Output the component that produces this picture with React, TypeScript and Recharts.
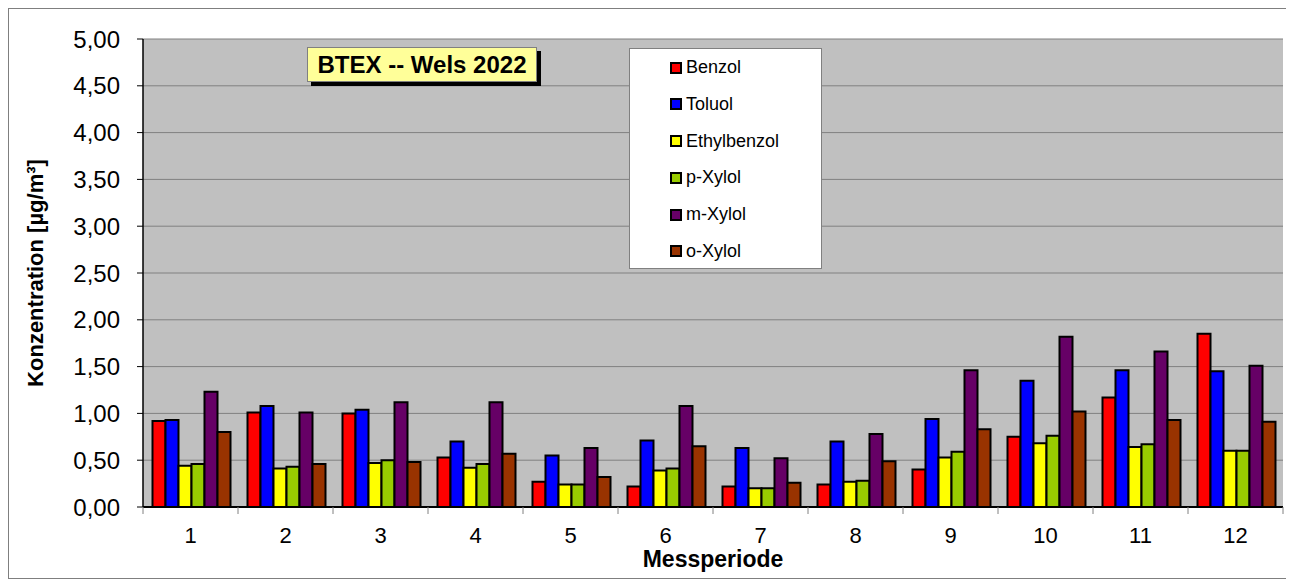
import { Bar, BarChart, CartesianGrid, Legend, XAxis, YAxis } from "recharts";

const PERIODS = ["1", "2", "3", "4", "5", "6", "7", "8", "9", "10", "11", "12"];
const BENZOL = [0.92, 1.01, 1.0, 0.53, 0.27, 0.22, 0.22, 0.24, 0.4, 0.75, 1.17, 1.85];
const TOLUOL = [0.93, 1.08, 1.04, 0.7, 0.55, 0.71, 0.63, 0.7, 0.94, 1.35, 1.46, 1.45];
const ETHYLBENZOL = [0.44, 0.41, 0.47, 0.42, 0.24, 0.39, 0.2, 0.27, 0.53, 0.68, 0.64, 0.6];
const P_XYLOL = [0.46, 0.43, 0.5, 0.46, 0.24, 0.41, 0.2, 0.28, 0.59, 0.76, 0.67, 0.6];
const M_XYLOL = [1.23, 1.01, 1.12, 1.12, 0.63, 1.08, 0.52, 0.78, 1.46, 1.82, 1.66, 1.51];
const O_XYLOL = [0.8, 0.46, 0.48, 0.57, 0.32, 0.65, 0.26, 0.49, 0.83, 1.02, 0.93, 0.91];
const Y_TICKS = [0, 0.5, 1, 1.5, 2, 2.5, 3, 3.5, 4, 4.5, 5];

const SERIES = [
  { key: "Benzol", values: BENZOL, color: "#FF0000" },
  { key: "Toluol", values: TOLUOL, color: "#0000FF" },
  { key: "Ethylbenzol", values: ETHYLBENZOL, color: "#FFFF00" },
  { key: "p-Xylol", values: P_XYLOL, color: "#99CC00" },
  { key: "m-Xylol", values: M_XYLOL, color: "#660066" },
  { key: "o-Xylol", values: O_XYLOL, color: "#993300" },
];
const ORDER = SERIES.map((s) => s.key);

const data = PERIODS.map((p, i) => {
  const row: Record<string, string | number> = { period: p };
  SERIES.forEach((s) => (row[s.key] = s.values[i]));
  return row;
});

const W = 1281;
const H = 569;
const MARGIN = { top: 30, right: 7, bottom: 0, left: 0 };
const Y_AXIS_W = 134;
const BAND = (W - MARGIN.right - Y_AXIS_W) / PERIODS.length;
const FONT = '"Liberation Sans", Arial, sans-serif';

const fmt = (v: number) => v.toFixed(2).replace(".", ",");

function PeriodTick(props: any) {
  const { x, y, payload, index } = props;
  const half = BAND / 2;
  return (
    <g>
      <line x1={x - half} x2={x - half} y1={y} y2={y + 7} stroke="#808080" />
      {index === PERIODS.length - 1 && <line x1={x + half} x2={x + half} y1={y} y2={y + 7} stroke="#808080" />}
      <text x={x} y={y + 20} dy="0.71em" textAnchor="middle" fontSize={22} fill="#000">
        {payload.value}
      </text>
    </g>
  );
}

function LegendBox({ payload }: any) {
  const items = [...(payload || [])].sort((a: any, b: any) => ORDER.indexOf(a.value) - ORDER.indexOf(b.value));
  return (
    <div style={{ width: 193, height: 221, background: "#fff", border: "1px solid #808080", boxSizing: "border-box", position: "relative" }}>
      {items.map((p: any, i: number) => (
        <div key={p.value} style={{ position: "absolute", left: 40, top: 18.7 + i * 36.7 - 11, height: 22, display: "flex", alignItems: "center" }}>
          <span style={{ width: 8, height: 8, background: p.color, border: "2px solid #000", display: "inline-block", marginRight: 4 }} />
          <span style={{ fontSize: 18, color: "#000" }}>{p.value}</span>
        </div>
      ))}
    </div>
  );
}

export default function App() {
  return (
    <div style={{ position: "relative", width: W + 2, height: H + 2, border: "1px solid #7f7f7f", boxSizing: "border-box", fontFamily: FONT, background: "#fff" }}>
      <BarChart width={W} height={H} data={data} margin={MARGIN} barCategoryGap="10%" barGap={0}>
        <CartesianGrid vertical={false} stroke="#808080" fill="#C0C0C0" />
        <XAxis
          dataKey="period"
          interval={0}
          tickLine={false}
          tickSize={0}
          tickMargin={0}
          height={71}
          axisLine={{ stroke: "#000", strokeWidth: 2 }}
          tick={<PeriodTick />}
          label={{ value: "Messperiode", position: "insideBottom", offset: 11, fontSize: 23, fontWeight: "bold", fill: "#000" }}
        />
        <YAxis
          width={Y_AXIS_W}
          domain={[0, 5]}
          ticks={Y_TICKS}
          tickFormatter={fmt}
          tickSize={6}
          tickMargin={17}
          axisLine={{ stroke: "#000", strokeWidth: 1.5 }}
          tickLine={{ stroke: "#000" }}
          tick={{ fontSize: 24, fill: "#000" }}
          label={{ value: "Konzentration [µg/m³]", angle: -90, position: "insideLeft", offset: 26, fontSize: 22, fontWeight: "bold", fill: "#000", style: { textAnchor: "middle" } }}
        />
        <YAxis yAxisId="r" orientation="right" width={0} tick={false} tickLine={false} axisLine={{ stroke: "#808080", strokeWidth: 3 }} />
        <Legend
          layout="vertical"
          align="center"
          verticalAlign="middle"
          content={<LegendBox />}
          wrapperStyle={{ position: "absolute", left: 620, top: 39, width: 193, height: 221 }}
        />
        {SERIES.map((s) => (
          <Bar key={s.key} dataKey={s.key} fill={s.color} stroke="#000" strokeWidth={2} isAnimationActive={false} />
        ))}
      </BarChart>
      <div
        style={{
          position: "absolute",
          left: 298,
          top: 38,
          width: 230,
          height: 35,
          background: "#FFFF99",
          border: "1px solid #808080",
          boxShadow: "4px 4px 0 #000",
          boxSizing: "border-box",
          display: "flex",
          alignItems: "center",
          justifyContent: "center",
          fontSize: 24,
          fontWeight: "bold",
        }}
      >
        BTEX -- Wels 2022
      </div>
    </div>
  );
}
